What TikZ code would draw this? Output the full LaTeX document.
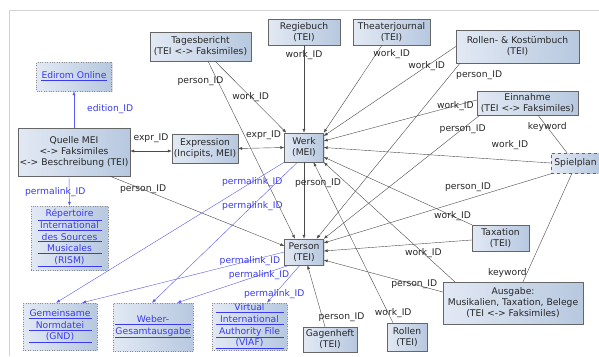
\documentclass[tikz,border=0pt]{standalone}
\usepackage{fontspec}
\setmainfont{DejaVu Sans}
\usetikzlibrary{positioning, arrows.meta, shadows}
\definecolor{boxleft}{HTML}{E2E9F4}
\definecolor{boxright}{HTML}{B7C8DF}
\definecolor{linkblue}{HTML}{3A3AF0}
\definecolor{edgegray}{HTML}{4A4A4A}
\definecolor{framegray}{HTML}{D2D2D2}
\newcommand{\ulbox}[2]{\underline{\makebox[#1][c]{#2}}}

\begin{document}
\begin{tikzpicture}[x=1pt, y=-1pt,
				font=\fontsize{9.2}{11}\selectfont,
				box/.style={draw=black!60, left color=boxleft, right color=boxright,
					align=center, inner sep=0pt, text=black!85,
					drop shadow={shadow xshift=1pt, shadow yshift=-1pt, opacity=0.25}},
				linkbox/.style={box, draw=black!45, dotted, text=linkblue, font=\fontsize{9.2}{11.6}\selectfont},
				ref/.style={draw=edgegray, line width=0.4pt, -{Latex[length=4pt, width=3pt]}},
				refboth/.style={ref, {Latex[length=4pt, width=3pt]}-{Latex[length=4pt, width=3pt]}},
				plain/.style={draw=edgegray, line width=0.4pt},
				link/.style={draw=linkblue!85, line width=0.4pt, -{Latex[length=4pt, width=3pt]}},
				lbl/.style={inner sep=0pt, text=black!85},
				blbl/.style={inner sep=0pt, text=linkblue}]
				\useasboundingbox (0,0) rectangle (599,356);
				\draw[framegray, line width=0.8pt] (599,10) -- (9,10) -- (9,356);
				% sources
				\node[box, minimum width=101pt, minimum height=29pt] (tb) at (200.5,46.5) {Tagesbericht\\(TEI <-> Faksimiles)};
				\node[box, minimum width=72pt, minimum height=26pt] (rb) at (304,32) {Regiebuch\\(TEI)};
				\node[box, minimum width=77pt, minimum height=26pt] (tj) at (391.5,32) {Theaterjournal\\(TEI)};
				\node[box, minimum width=123pt, minimum height=33pt] (rk) at (517.5,46.5) {Rollen- \& Kostümbuch\\(TEI)};
				\node[box, minimum width=101pt, minimum height=24pt] (ein) at (527.5,103) {Einnahme\\(TEI <-> Faksimiles)};
				\node[box, dashed, minimum width=49pt, minimum height=20pt] (sp) at (575.5,163) {Spielplan};
				\node[box, minimum width=112pt, minimum height=48pt] (qm) at (74,152) {Quelle MEI\\<-> Faksimiles\\<-> Beschreibung (TEI)};
				\node[box, minimum width=66pt, minimum height=29pt] (ex) at (205,148.5) {Expression\\(Incipits, MEI)};
				\node[box, minimum width=39pt, minimum height=29pt] (werk) at (304,147.5) {Werk\\(MEI)};
				\node[box, minimum width=39pt, minimum height=26pt] (person) at (304,252) {Person\\(TEI)};
				\node[box, minimum width=57pt, minimum height=26pt] (tax) at (500.5,238) {Taxation\\(TEI)};
				\node[box, minimum width=140pt, minimum height=42pt] (aus) at (513,303) {Ausgabe:\\Musikalien, Taxation, Belege\\(TEI <-> Faksimiles)};
				\node[box, minimum width=54pt, minimum height=25pt] (gag) at (330,339.5) {Gagenheft\\(TEI)};
				\node[box, minimum width=40pt, minimum height=28pt] (rol) at (407,337) {Rollen\\(TEI)};
				% external resources
				\node[linkbox, minimum width=75pt, minimum height=29pt] (ed) at (74,76.5) {\ulbox{66pt}{Edirom Online}};
				\node[linkbox, minimum width=77pt, minimum height=64pt] (rism) at (69.5,238) {\ulbox{64pt}{Répertoire}\\\ulbox{64pt}{International}\\\ulbox{64pt}{des Sources}\\\ulbox{64pt}{Musicales}\\\ulbox{64pt}{(RISM)}};
				\node[linkbox, minimum width=74pt, minimum height=47pt] (gnd) at (60,326.5) {\ulbox{63pt}{Gemeinsame}\\\ulbox{63pt}{Normdatei}\\\ulbox{63pt}{(GND)}};
				\node[linkbox, minimum width=80pt, minimum height=48pt] (wega) at (153,327) {\ulbox{76pt}{Weber-}\\\ulbox{76pt}{Gesamtausgabe}};
				\node[linkbox, minimum width=75pt, minimum height=47pt] (viaf) at (249.5,326.5) {\ulbox{68pt}{Virtual}\\\ulbox{68pt}{International}\\\ulbox{68pt}{Authority File}\\\ulbox{68pt}{(VIAF)}};
				% work_ID
				\draw[ref] ([xshift=14.5pt]tb.south) -- node[lbl, pos=0.5] {work\_ID} ([xshift=2pt]werk.north west);
				\draw[ref] (rb) -- node[lbl, pos=0.11] {work\_ID} (werk);
				\draw[ref] ([xshift=-9.5pt]tj.south) -- node[lbl, pos=0.1, anchor=west, xshift=-3pt] {work\_ID} (werk.north east);
				\draw[ref] (rk.west) -- node[lbl, pos=0.22] {work\_ID} ([yshift=11.5pt]werk.east);
				\draw[ref] ([yshift=3pt]ein.west) -- node[lbl, pos=0.14] {work\_ID} ([yshift=6.5pt]werk.east);
				\draw[ref] (sp.west) -- node[lbl, pos=0.18, above=10pt] {work\_ID} (werk.east);
				\draw[ref] (tax.north west) -- node[lbl, pos=0.13] {work\_ID} ([yshift=-9.5pt]werk.east);
				\draw[ref] ([xshift=12pt]aus.north west) -- node[lbl, pos=0.24] {work\_ID} (werk.south east);
				\draw[ref] ([xshift=-14pt]rol.north) -- node[lbl, pos=0.06, xshift=5pt] {work\_ID} ([xshift=9.5pt]werk.south);
				% person_ID
				\draw[ref] ([xshift=7.5pt]tb.south) -- node[lbl, pos=0.11, xshift=-17pt] {person\_ID} ([xshift=-9pt]person.north);
				\draw[ref] (werk) -- node[lbl, pos=0.27, xshift=14pt] {person\_ID} (person);
				\draw[ref] ([xshift=-57.5pt]rk.south) -- node[lbl, pos=0.07, anchor=west, xshift=6pt] {person\_ID} ([xshift=12.5pt]person.north);
				\draw[ref] ([xshift=3pt]ein.south west) -- node[lbl, pos=0.11] {person\_ID} (person.north east);
				\draw[ref] ([xshift=2pt]sp.south west) -- node[lbl, pos=0.37, above=7pt] {person\_ID} ([yshift=9pt]person.east);
				\draw[ref] ([yshift=-2pt]tax.west) -- ([yshift=1pt]person.east);
				\draw[ref] ([yshift=11pt]aus.west) -- node[lbl, pos=0.24] {person\_ID} ([yshift=-8pt]person.east);
				\draw[ref] ([xshift=-5pt]gag.north) -- node[lbl, pos=0.15, anchor=west, xshift=-4pt] {person\_ID} ([xshift=3.5pt]person.south);
				\draw[ref] ([xshift=36pt]qm.south) -- node[lbl, pos=0.19] {person\_ID} ([yshift=6pt]person.west);
				% expr_ID
				\draw[refboth] ([yshift=1pt]qm.east) -- node[lbl, above=8pt] {expr\_ID} ([yshift=-2.5pt]ex.west);
				\draw[refboth] (ex.east) -- node[lbl, pos=0.55, above=8pt] {expr\_ID} (werk.west);
				% keyword
				\draw[plain] ([xshift=10.5pt]ein.south) -- node[lbl, pos=0.32] {keyword} ([xshift=-8.5pt]sp.north);
				\draw[plain] ([xshift=-3.5pt]sp.south) -- node[lbl, pos=0.92, anchor=east] {keyword} ([xshift=10pt]aus.north);
				% links
				\draw[link] (qm) -- node[blbl, pos=0.5, anchor=west, xshift=13pt] {edition\_ID} (ed);
				\draw[link] ([xshift=-5pt]qm.south) -- node[blbl, pos=0.53, xshift=-14pt] {permalink\_ID} (rism.north);
				\draw[link] (werk.south west) -- node[blbl, pos=0.14] {permalink\_ID} ([xshift=-4pt]gnd.north);
				\draw[link] ([xshift=-6.5pt]werk.south) -- node[blbl, pos=0.31] {permalink\_ID} ([xshift=-1pt]wega.north);
				\draw[link] (person.west) -- node[blbl, pos=0.17] {permalink\_ID} ([xshift=22pt]gnd.north);
				\draw[link] ([xshift=5pt]person.south west) -- node[blbl, pos=0.27] {permalink\_ID} ([xshift=24pt]wega.north);
				\draw[link] ([xshift=-4pt]person.south) -- node[blbl, pos=0.78] {permalink\_ID} ([xshift=17.5pt]viaf.north);
			\end{tikzpicture}
\end{document}
